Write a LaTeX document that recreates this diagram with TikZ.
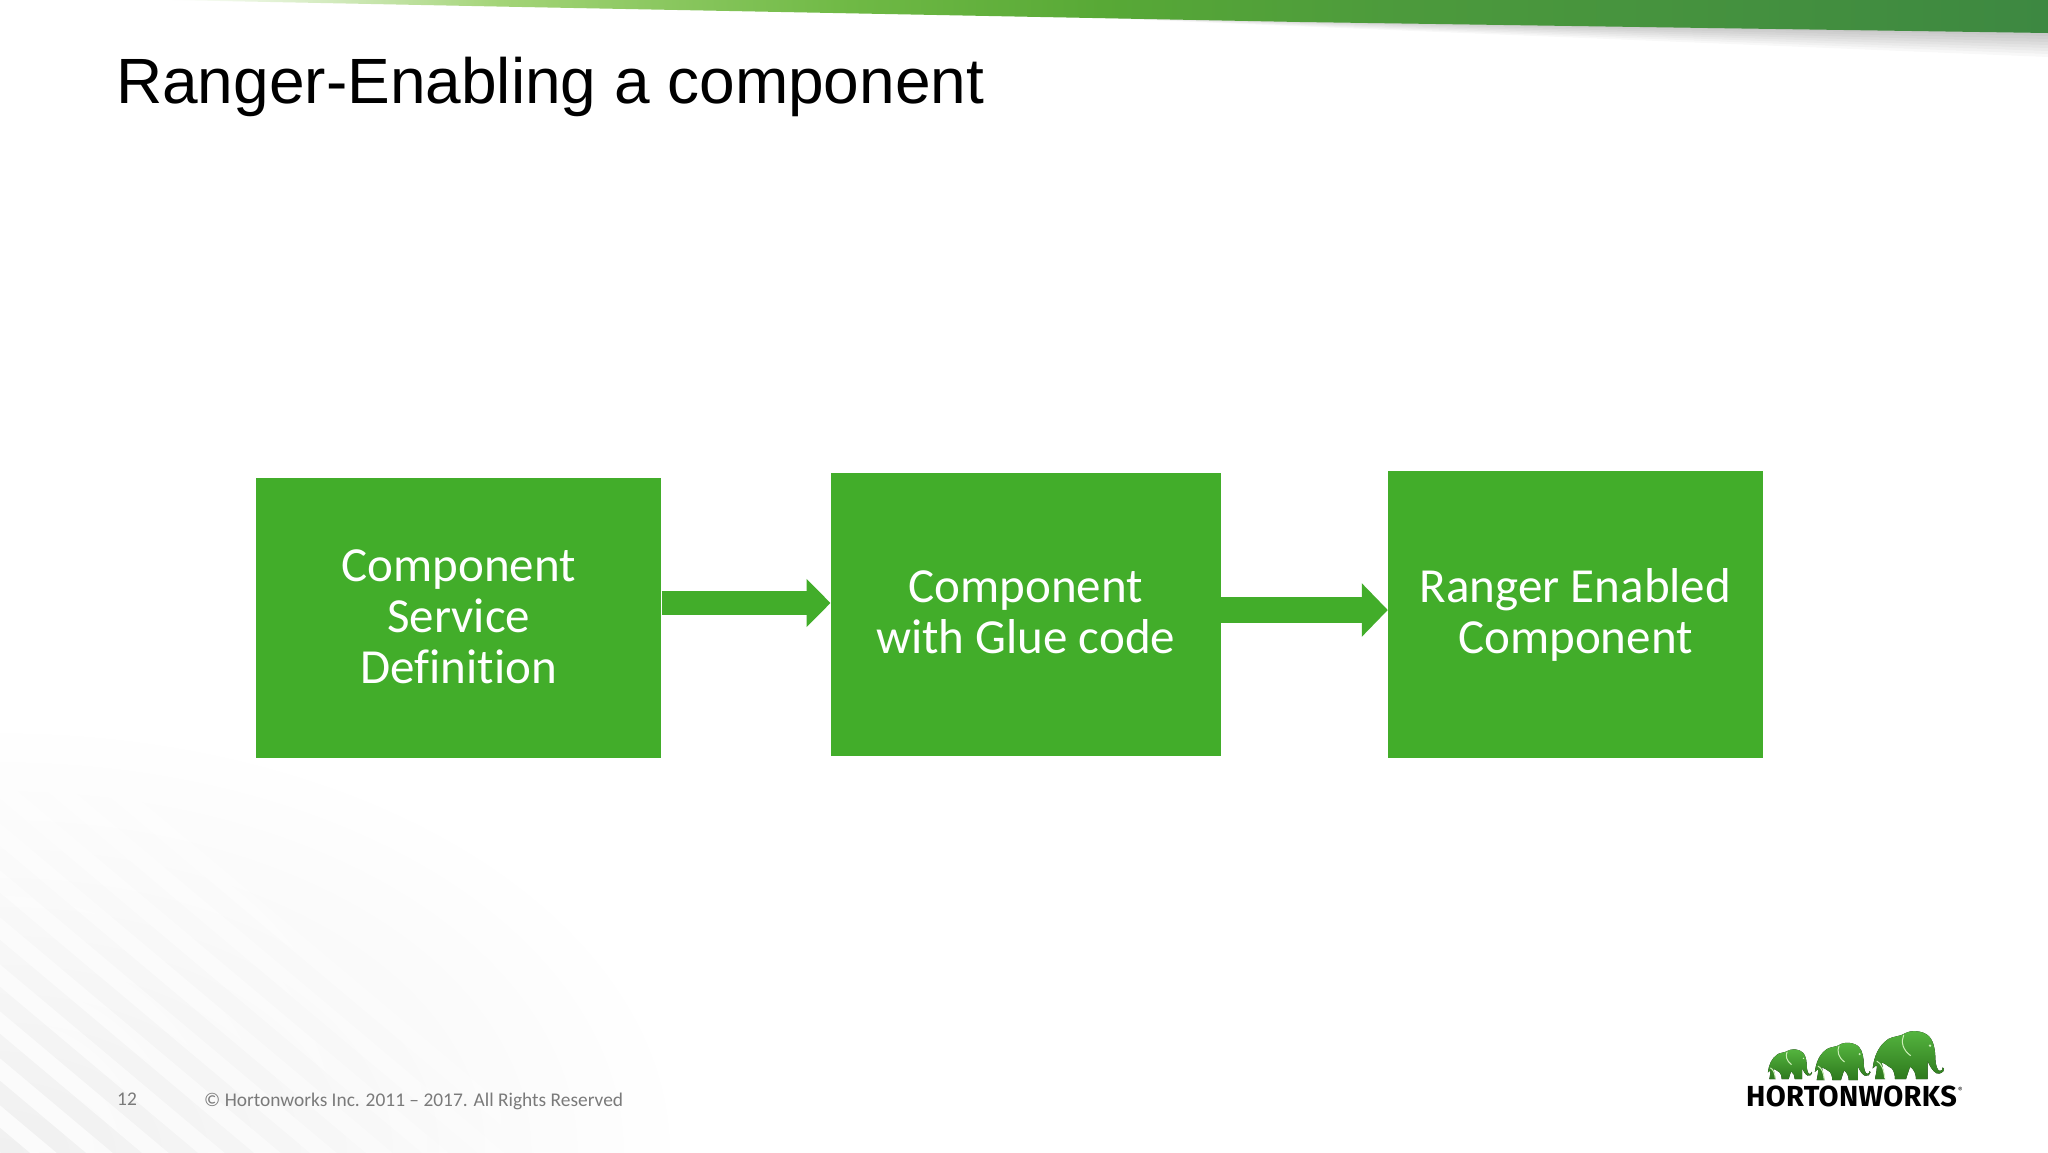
\documentclass[tikz,border=0pt]{standalone}
\usepackage{fontspec}
\usetikzlibrary{arrows.meta,fadings}
\setmainfont{Liberation Sans}
\newfontfamily\bodyfont[Ligatures=NoCommon]{Carlito}
\newfontfamily\logofont[LetterSpace=1]{Fira Sans}
\definecolor{boxgreen}{HTML}{42AD2A}
\definecolor{footgray}{HTML}{7A7A7A}
\definecolor{earlight}{HTML}{CDEFB8}
\definecolor{bandA}{HTML}{A3D477}
\definecolor{bandB}{HTML}{6FB945}
\definecolor{bandC}{HTML}{58A936}
\definecolor{bandD}{HTML}{4C9A3C}
\definecolor{bandE}{HTML}{3D8841}
\pgfdeclarehorizontalshading{bandgreen}{100bp}{color(0bp)=(white);color(25bp)=(white);color(33.8bp)=(bandA);color(43.1bp)=(bandB);color(49.8bp)=(bandC);color(57.8bp)=(bandD);color(75bp)=(bandE);color(100bp)=(bandE)}
\tikzfading[name=cornerfade,inner color=transparent!0,outer color=transparent!100]
\tikzset{
	flowbox/.style={draw=none,fill=boxgreen,text=white,align=center,inner sep=0pt,font=\bodyfont\fontsize{49}{51}\selectfont},
	flowarrow/.style={draw=boxgreen,line width=23.5pt,-{Triangle[length=24pt,width=47pt]}},
	footnote/.style={text=footgray,anchor=base west,inner sep=0pt,font=\bodyfont\fontsize{19.4}{21}\selectfont},
	elephant/.pic={
		\fill[top color=boxgreen!90!white,bottom color=boxgreen!70!black] (38,130) .. controls (42,95) and (55,62) .. (85,42) .. controls (100,33) and (120,35) .. (135,25) .. controls (150,15) and (190,15) .. (208,35) .. controls (222,50) and (226,80) .. (226,100) .. controls (226,118) and (232,138) .. (240,138) .. controls (246,138) and (248,132) .. (248,127) -- (252,132) .. controls (252,142) and (240,148) .. (230,145) .. controls (218,140) and (208,120) .. (203,108) -- (203,162) -- (168,162) .. controls (168,148) and (162,132) .. (150,125) -- (138,162) -- (105,162) .. controls (105,148) and (100,135) .. (95,130) .. controls (85,125) and (75,115) .. (65,112) -- (75,162) -- (45,162) .. controls (48,145) and (52,130) .. (50,120) -- cycle;
		\draw[earlight,line width=1pt] (131,30) .. controls (122,50) and (128,75) .. (152,92);
		\draw[earlight,line width=1pt] (50,108) .. controls (65,115) and (72,135) .. (74,160);
		\fill[earlight] (210,62) circle (4);
	}
}
\begin{document}
\begin{tikzpicture}[>=stealth,x=1pt,y=-1pt]
	\useasboundingbox (0,0) rectangle (2048,1152);
	\fill[white] (0,0) rectangle (2048,1152);
	\begin{scope}
		\clip (0,0) rectangle (2048,1152);
		\fill[black,opacity=.06,path fading=cornerfade] (-690,720) rectangle (690,1584);
		\begin{scope}[shift={(0,1152)},rotate=-40]
			\fill[white,opacity=.8,path fading=cornerfade] \foreach \k in {-10,...,10} {(-650,\k*36) rectangle (650,\k*36+17)};
		\end{scope}
		\foreach \d in {3,6,...,24}
			\fill[black,opacity=.028] (1000,14) -- (2048,30) -- (2048,33+\d) -- cycle;
		\shade[shading=bandgreen] (170,0) -- (522,7) -- (1300,22) -- (2048,33) -- (2048,0) -- cycle;
	\end{scope}

	\node[anchor=base west,inner sep=0pt,font=\fontsize{64}{70}\selectfont] (title) at (116,103) {Ranger-Enabling a component};

	\node[flowbox,minimum width=405.5pt,minimum height=280pt] (svcbox) at (458.7,618) {Component\\Service\\Definition\rule[-2.6pt]{0pt}{1pt}};
	\node[flowbox,minimum width=390pt,minimum height=283pt] (gluebox) at (1025.7,614.5) {Component\\with Glue code\rule[-5.2pt]{0pt}{1pt}};
	\node[flowbox,minimum width=375pt,minimum height=287pt] (rangerbox) at (1575.5,614.5) {\rule{0pt}{35.5pt}Ranger Enabled\\Component};

	\draw[flowarrow] ([yshift=15pt]svcbox.east) -- ([yshift=11.5pt]gluebox.west);
	\draw[flowarrow,line width=26pt,-{Triangle[length=26pt,width=52pt]}] ([yshift=4.5pt]gluebox.east) -- ([yshift=4.5pt]rangerbox.west);

	\node[footnote] (pagenum) at (117,1105) {12};
	\node[footnote] (copyright) at (204,1106) {© Hortonworks Inc. 2011 – 2017. All Rights Reserved};

	\pic[shift={(1760,1045.5)},scale=.207] {elephant};
	\pic[shift={(1805,1038)},scale=.26] {elephant};
	\pic[shift={(1860,1025)},scale=.3333] {elephant};
	\node[anchor=base west,inner sep=0pt,font=\logofont\bfseries\fontsize{29}{30}\selectfont] (logotext) at (1746,1106) {HORTONWORKS};
	\node[anchor=base west,inner sep=0pt,font=\logofont\fontsize{7}{8}\selectfont] (logomark) at (1958,1092) {®};
\end{tikzpicture}
\end{document}
